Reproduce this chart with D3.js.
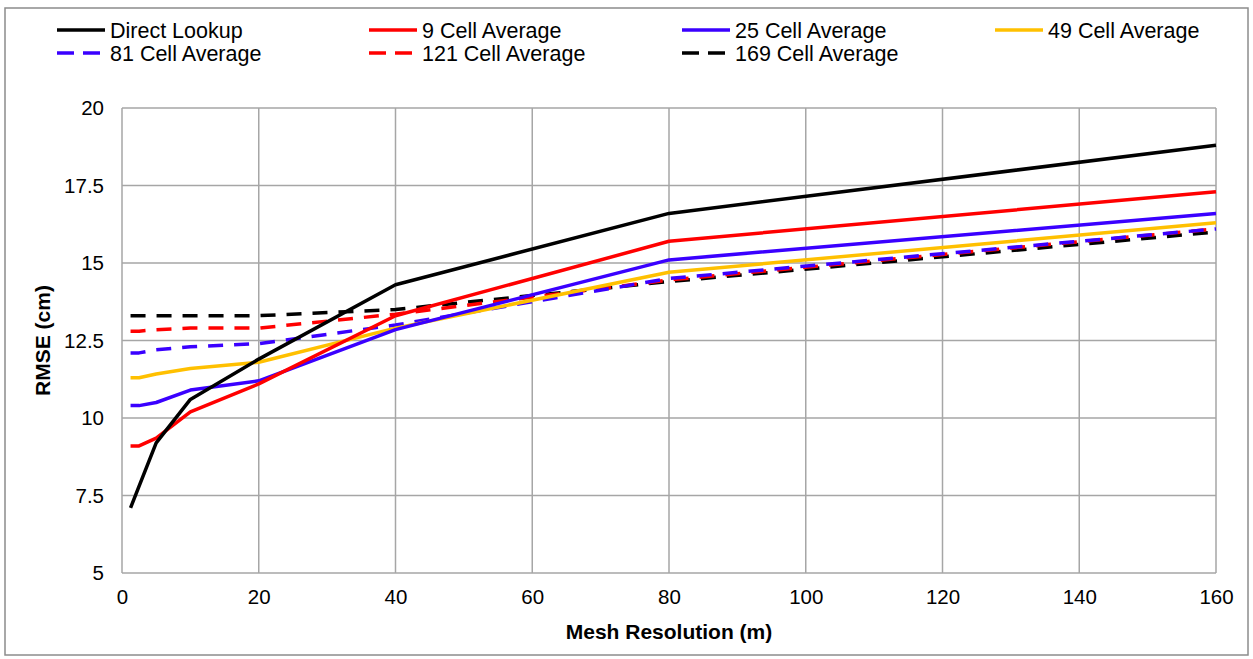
<!DOCTYPE html>
<html>
<head>
<meta charset="utf-8">
<script src="https://cdn.jsdelivr.net/npm/d3@7"></script>
<style>
  body { margin: 0; background: #fff; }
  svg { font-family: "Liberation Sans", Arial, sans-serif; }
</style>
</head>
<body>
<svg id="chart"></svg>
<script>
// mesh resolution (m)
const resolutions = [1.25, 2.5, 5, 10, 20, 40, 80, 160];

const directLookup = [7.1, 7.8, 9.2, 10.6, 11.9, 14.3, 16.6, 18.8];
const cell9   = [9.1, 9.1, 9.35, 10.2, 11.1, 13.3, 15.7, 17.3];
const cell25  = [10.4, 10.4, 10.5, 10.9, 11.2, 12.85, 15.1, 16.6];
const cell49  = [11.3, 11.3, 11.42, 11.6, 11.8, 12.9, 14.7, 16.3];
const cell81  = [12.1, 12.1, 12.2, 12.3, 12.4, 13.0, 14.5, 16.1];
const cell121 = [12.8, 12.8, 12.85, 12.9, 12.9, 13.35, 14.45, 16.1];
const cell169 = [13.3, 13.3, 13.3, 13.3, 13.3, 13.5, 14.4, 16.0];

const seriesNames = ["Direct Lookup", "9 Cell Average", "25 Cell Average", "49 Cell Average",
                     "81 Cell Average", "121 Cell Average", "169 Cell Average"];

const xTicks = [0, 20, 40, 60, 80, 100, 120, 140, 160];
const yTicks = [5, 7.5, 10, 12.5, 15, 17.5, 20];

const series = [
  { name: seriesNames[0], values: directLookup, color: "#000000", dashed: false },
  { name: seriesNames[1], values: cell9,        color: "#ff0000", dashed: false },
  { name: seriesNames[2], values: cell25,       color: "#3a00ff", dashed: false },
  { name: seriesNames[3], values: cell49,       color: "#ffc000", dashed: false },
  { name: seriesNames[4], values: cell81,       color: "#3a00ff", dashed: true },
  { name: seriesNames[5], values: cell121,      color: "#ff0000", dashed: true },
  { name: seriesNames[6], values: cell169,      color: "#000000", dashed: true }
];

const W = 1253, H = 659;
const margin = { left: 122, right: 37, top: 108, bottom: 86 };
const dash = "15,11";

const svg = d3.select("#chart").attr("width", W).attr("height", H);

// outer frame
svg.append("rect")
  .attr("x", 5).attr("y", 8)
  .attr("width", W - 10).attr("height", H - 12)
  .attr("fill", "none").attr("stroke", "#8c8c8c").attr("stroke-width", 1.5);

const x = d3.scaleLinear().domain([0, 160]).range([margin.left, W - margin.right]);
const y = d3.scaleLinear().domain([5, 20]).range([H - margin.bottom, margin.top]);

// grid
const g = svg.append("g");
g.selectAll(".vgrid").data(xTicks).enter().append("line")
  .attr("x1", d => x(d)).attr("x2", d => x(d))
  .attr("y1", y(5)).attr("y2", y(20))
  .attr("stroke", "#a6a6a6").attr("stroke-width", 1.5);
g.selectAll(".hgrid").data(yTicks).enter().append("line")
  .attr("x1", x(0)).attr("x2", x(160))
  .attr("y1", d => y(d)).attr("y2", d => y(d))
  .attr("stroke", "#a6a6a6").attr("stroke-width", 1.5);

// axes (labels only)
const xAxis = svg.append("g")
  .attr("transform", `translate(0,${y(5)})`)
  .call(d3.axisBottom(x).tickValues(xTicks).tickSize(0).tickPadding(16));
const yAxis = svg.append("g")
  .attr("transform", `translate(${x(0)},0)`)
  .call(d3.axisLeft(y).tickValues(yTicks).tickSize(0).tickPadding(18).tickFormat(d3.format("")));
[xAxis, yAxis].forEach(a => {
  a.select(".domain").remove();
  a.selectAll("text").attr("font-size", 20.5).attr("fill", "#000")
    .attr("font-family", "'Liberation Sans', Arial, sans-serif");
});

// axis titles
svg.append("text")
  .attr("x", (x(0) + x(160)) / 2).attr("y", 639)
  .attr("text-anchor", "middle").attr("font-size", 21).attr("font-weight", "bold")
  .text("Mesh Resolution (m)");
svg.append("text")
  .attr("transform", `translate(50,${(y(5) + y(20)) / 2}) rotate(-90)`)
  .attr("text-anchor", "middle").attr("font-size", 21).attr("font-weight", "bold")
  .text("RMSE (cm)");

// lines
const line = d3.line()
  .x((d, i) => x(resolutions[i]))
  .y(d => y(d));

svg.append("g").selectAll("path")
  .data(series.slice().reverse())
  .enter().append("path")
  .attr("d", d => line(d.values))
  .attr("fill", "none")
  .attr("stroke", d => d.color)
  .attr("stroke-width", 3.5)
  .attr("stroke-linejoin", "round")
  .attr("stroke-dasharray", d => d.dashed ? dash : null);

// legend
const legendCols = [57, 369, 682, 995];
const legendRows = [30, 53];
const legend = svg.append("g").selectAll("g")
  .data(series).enter().append("g")
  .attr("transform", (d, i) => `translate(${legendCols[i % 4]},${legendRows[Math.floor(i / 4)]})`);
legend.append("line")
  .attr("x1", 0).attr("x2", 48).attr("y1", 0).attr("y2", 0)
  .attr("stroke", d => d.color).attr("stroke-width", 3.5)
  .attr("stroke-dasharray", d => d.dashed ? "17,9" : null);
legend.append("text")
  .attr("x", 53).attr("y", 0).attr("dy", "0.35em")
  .attr("font-size", 21.5)
  .text(d => d.name);
</script>
</body>
</html>
